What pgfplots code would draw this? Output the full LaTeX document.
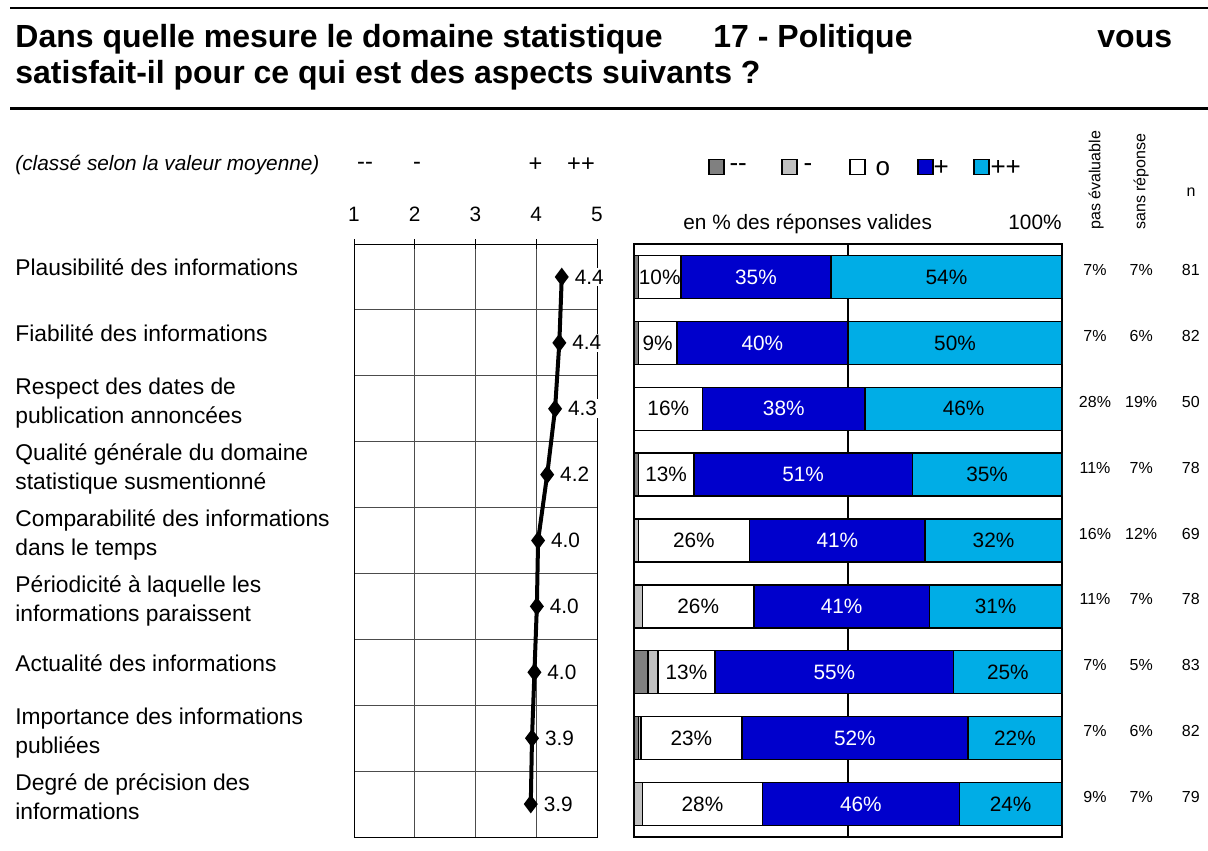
\documentclass[border=0pt]{standalone}
\usepackage{fontspec}
\setmainfont{Liberation Sans}
\usepackage{pgfplots}
\pgfplotsset{compat=1.18}
\pgfplotsset{/pgf/number format/assume math mode=true}
\usepackage{pgfplotstable}
\definecolor{cdd}{RGB}{128,128,128}
\definecolor{cd}{RGB}{192,192,192}
\definecolor{cp}{RGB}{0,0,204}
\definecolor{cpp}{RGB}{0,173,230}
\newcommand\fcat{\fontsize{11.4}{14}\selectfont}
\newcommand\fnorm{\fontsize{10.4}{12.5}\selectfont}
\newcommand\fsign{\fontsize{11.8}{14}\selectfont}
\newcommand\fleg{\fontsize{13}{15}\selectfont}
\newcommand\fsmall{\fontsize{8}{9.6}\selectfont}
\newcommand\ftitle{\fontsize{16}{19}\selectfont\bfseries}

\pgfplotstableread{
y dd d o p pp lo lp lpp
0 1 0 10 35 54 10 35 54
1 1 0 9 40 50 9 40 50
2 0 0 16 38 46 16 38 46
3 1 0 13 51 35 13 51 35
4 0 1 26 41 32 26 41 32
5 0 2 26 41 31 26 41 31
6 3.3 2.3 13.3 55.8 25.3 13 55 25
7 1 0.6 23.6 52.8 22 23 52 22
8 0 2 28 46 24 28 46 24
}\bars

\pgfplotstableread{
y m lab
0 4.42 4.4
1 4.38 4.4
2 4.31 4.3
3 4.18 4.2
4 4.03 4.0
5 4.01 4.0
6 3.97 4.0
7 3.93 3.9
8 3.91 3.9
}\means

\pgfplotstableread{
y pe sr n
0 7 7 81
1 7 6 82
2 28 19 50
3 11 7 78
4 16 12 69
5 11 7 78
6 7 5 83
7 7 6 82
8 9 7 79
}\extra

\begin{document}
\begin{tikzpicture}
\begin{scope}[x=0.5pt,y=-0.5pt]
\useasboundingbox (0,0) rectangle (1208,845);
% title
\draw[line width=1pt] (10,8) -- (1208,8);
\draw[line width=1.5pt] (10,108) -- (1208,108);
\node[anchor=base west,inner sep=0pt,font=\ftitle] at (15,47) {Dans quelle mesure le domaine statistique};
\node[anchor=base west,inner sep=0pt,font=\ftitle] at (713,47) {17 - Politique};
\node[anchor=base west,inner sep=0pt,font=\ftitle] at (1097,47) {vous};
\node[anchor=base west,inner sep=0pt,font=\ftitle] at (15,83) {satisfait-il pour ce qui est des aspects suivants ?};
% headers
\node[anchor=base west,inner sep=0pt,font=\fnorm\itshape] at (15,170) {(classé selon la valeur moyenne)};
\node[inner sep=0pt,font=\fsign] at (365,166) {-{}-};
\node[inner sep=0pt,font=\fsign] at (417,166) {-};
\node[inner sep=0pt,font=\fsign] at (535.5,165) {+};
\node[inner sep=0pt,font=\fsign] at (581,165) {+{}+};
\node[anchor=base west,inner sep=0pt,font=\fnorm] at (683,229.5) {en \% des réponses valides};
\node[anchor=base east,inner sep=0pt,font=\fnorm] at (1062,229.5) {100\%};
\node[anchor=west,rotate=90,inner sep=0pt,font=\fsmall] at (1096,230) {pas évaluable};
\node[anchor=west,rotate=90,inner sep=0pt,font=\fsmall] at (1141,230) {sans réponse};
\node[inner sep=0pt,font=\fsmall] at (1191,192) {n};
% categories
\begin{scope}[every node/.style={anchor=base west,inner sep=0pt,font=\fcat}]
\node at (15,275) {Plausibilité des informations};
\node at (15,341) {Fiabilité des informations};
\node at (15,394) {Respect des dates de};
\node at (15,423) {publication annoncées};
\node at (15,460) {Qualité générale du domaine};
\node at (15,489) {statistique susmentionné};
\node at (15,526) {Comparabilité des informations};
\node at (15,555) {dans le temps};
\node at (15,592) {Périodicité à laquelle les};
\node at (15,621) {informations paraissent};
\node at (15,671) {Actualité des informations};
\node at (15,724) {Importance des informations};
\node at (15,753) {publiées};
\node at (15,790) {Degré de précision des};
\node at (15,819) {informations};
\end{scope}
\end{scope}

% left axis: mean values
\begin{axis}[at={(177pt,-122pt)}, anchor=north west, scale only axis,
  width=121.5pt, height=296.5pt,
  xmin=1, xmax=5, ymin=-0.5, ymax=8.5, y dir=reverse,
  xtick={1,2,3,4,5}, xtick pos=right, xticklabel pos=right,
  tick align=center, major tick length=5pt,
  x tick style={black, line width=0.5pt},
  ytick={0.5,1.5,2.5,3.5,4.5,5.5,6.5,7.5}, yticklabels={,,,,,,,,}, y tick style={draw=none},
  xmajorgrids, ymajorgrids, grid style={black!70, line width=0.5pt},
  axis line style={black, line width=0.5pt},
  ticklabel style={font=\fnorm},
  xticklabel shift=5pt, clip=false]
\addplot[black, line width=2pt, mark=diamond*, mark size=3pt,
  point meta=explicit,
  nodes near coords={\pgfmathprintnumber[fixed,fixed zerofill,precision=1]{\pgfplotspointmeta}},
  every node near coord/.append style={anchor=west, fill=white, inner sep=1pt, xshift=4.5pt, font=\fnorm, text=black}]
  table[x=m, y=y, meta=lab]{\means};
\end{axis}

% right axis: stacked bars
\begin{axis}[at={(317pt,-122pt)}, anchor=north west, scale only axis,
  width=214pt, height=296.5pt,
  xmin=0, xmax=100, ymin=-0.5, ymax=8.5, y dir=reverse,
  xbar stacked, bar width=21.5pt,
  xtick={50}, xticklabels={,}, ytick=\empty, major tick length=0pt,
  xmajorgrids, grid style={black, line width=0.6pt},
  axis line style={black, line width=1pt},
  legend columns=5,
  legend style={at={(0.1729,1.127)}, anchor=west, draw=none, fill=none,
    inner sep=0pt, outer sep=0pt, column sep=0pt, font=\fleg, nodes={inner sep=0pt}},
  legend cell align=left,
  legend image code/.code={\draw[#1, line width=0.75pt] (0pt,-2.55pt) rectangle (7.5pt,4.95pt);}]
\addplot[fill=cdd, draw=black, line width=0.7pt] table[x=dd, y=y]{\bars};
\addplot[fill=cd, draw=black, line width=0.7pt] table[x=d, y=y]{\bars};
\addplot[fill=white, draw=black, line width=0.7pt] table[x=o, y=y]{\bars};
\addplot[fill=cp, draw=black, line width=0.7pt] table[x=p, y=y]{\bars};
\addplot[fill=cpp, draw=black, line width=0.7pt] table[x=pp, y=y]{\bars};
\legend{\makebox[28.25pt][l]{\hspace{2.5pt}-{}-}, \makebox[25.75pt][l]{\hspace{3pt}-}, \makebox[25.75pt][l]{\hspace{5pt}o}, \makebox[19.75pt][l]{\hspace{0pt}+}, {\hspace{0.5pt}+{}+}}
\end{axis}

% overlay axis: bar labels and side columns
\begin{axis}[at={(317pt,-122pt)}, anchor=north west, scale only axis,
  width=214pt, height=296.5pt,
  xmin=0, xmax=100, ymin=-0.5, ymax=8.5, y dir=reverse,
  hide axis, clip=false]
\addplot[draw=none, mark=none, point meta=explicit,
  nodes near coords={\pgfmathprintnumber{\pgfplotspointmeta}\%},
  every node near coord/.append style={anchor=center, font=\fnorm, text=black}]
  table[x expr=\thisrow{dd}+\thisrow{d}+0.5*\thisrow{o}, y=y, meta=lo]{\bars};
\addplot[draw=none, mark=none, point meta=explicit,
  nodes near coords={\pgfmathprintnumber{\pgfplotspointmeta}\%},
  every node near coord/.append style={anchor=center, font=\fnorm, text=white}]
  table[x expr=\thisrow{dd}+\thisrow{d}+\thisrow{o}+0.5*\thisrow{p}, y=y, meta=lp]{\bars};
\addplot[draw=none, mark=none, point meta=explicit,
  nodes near coords={\pgfmathprintnumber{\pgfplotspointmeta}\%},
  every node near coord/.append style={anchor=center, font=\fnorm, text=black}]
  table[x expr=\thisrow{dd}+\thisrow{d}+\thisrow{o}+\thisrow{p}+0.5*\thisrow{pp}, y=y, meta=lpp]{\bars};
\addplot[draw=none, mark=none, point meta=explicit,
  nodes near coords={\pgfmathprintnumber{\pgfplotspointmeta}\%},
  every node near coord/.append style={anchor=center, font=\fsmall, text=black, yshift=3.5pt}]
  table[x expr=107.7, y=y, meta=pe]{\extra};
\addplot[draw=none, mark=none, point meta=explicit,
  nodes near coords={\pgfmathprintnumber{\pgfplotspointmeta}\%},
  every node near coord/.append style={anchor=center, font=\fsmall, text=black, yshift=3.5pt}]
  table[x expr=118.5, y=y, meta=sr]{\extra};
\addplot[draw=none, mark=none, point meta=explicit,
  nodes near coords={\pgfmathprintnumber{\pgfplotspointmeta}},
  every node near coord/.append style={anchor=center, font=\fsmall, text=black, yshift=3.5pt}]
  table[x expr=130.1, y=y, meta=n]{\extra};
\end{axis}
\end{tikzpicture}
\end{document}
